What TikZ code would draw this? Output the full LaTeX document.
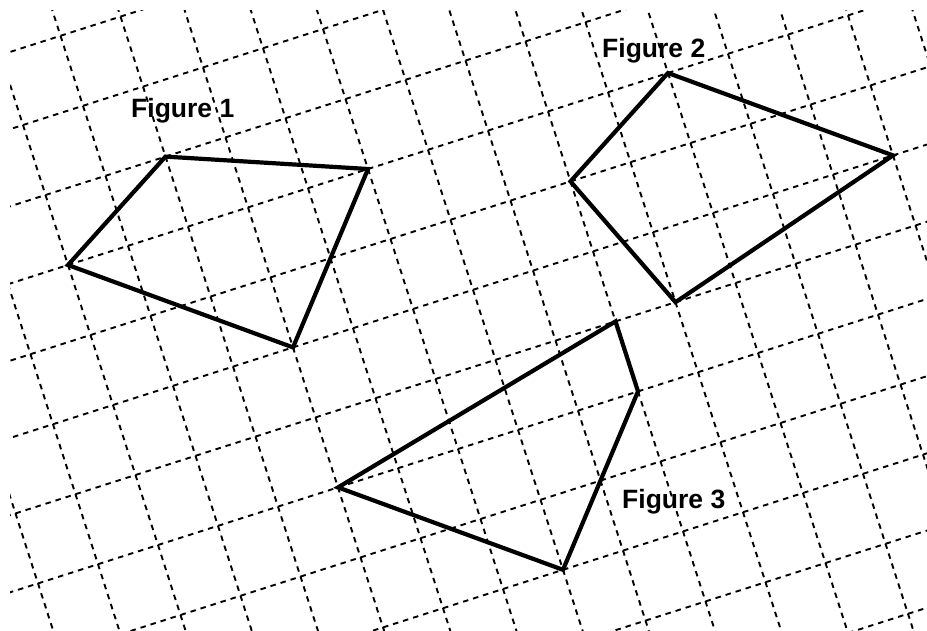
\documentclass[tikz,border=0pt]{standalone}
\usepackage{fontspec}
\setmainfont{Liberation Sans}
\begin{document}
\begin{tikzpicture}[x=1pt,y=-1pt,
  gridline/.style={line width=1.9pt,dash pattern=on 5.5pt off 5pt,black},
  figedge/.style={line width=4.2pt,line join=miter,black},
  figlabel/.style={font=\bfseries\fontsize{26.5}{30}\selectfont,anchor=base west,inner sep=0pt}]
\useasboundingbox[fill=white] (0,0) rectangle (927,630);
\begin{scope}
  \clip (10,10) rectangle (927,630);
  \begin{scope}[shift={(68,265)},x={(60pt,19.2pt)},y={(22.5pt,-70pt)}]
    \foreach \i in {-4,...,16} \draw[gridline] (\i,-5) -- (\i,10);
    \foreach \j in {-5,...,10} \draw[gridline] (-5,\j) -- (17,\j);
  \end{scope}
\end{scope}
\begin{scope}[shift={(68,265)},x={(60pt,19.2pt)},y={(22.5pt,-70pt)}]
  % Figure 1
  \coordinate (a1) at (0,0);
  \coordinate (a2) at (2,-1);
  \coordinate (a3) at (5,0);
  \coordinate (a4) at (3,2);
  % Figure 2
  \coordinate (b1) at (10,0);
  \coordinate (b2) at (13,2);
  \coordinate (b3) at (9,3);
  \coordinate (b4) at (8,1);
  % Figure 3
  \coordinate (c1) at (3,4);
  \coordinate (c2) at (8,3);
  \coordinate (c3) at (8,4);
  \coordinate (c4) at (6,6);
\end{scope}
\draw[figedge] (a1) -- (a2) -- (a3) -- (a4) -- cycle;
\draw[figedge] (b1) -- (b2) -- (b3) -- (b4) -- cycle;
\draw[figedge] (c1) -- (c2) -- (c3) -- (c4) -- cycle;
\node[figlabel] (l1) at (131,117) {Figure 1};
\node[figlabel] (l2) at (602,57) {Figure 2};
\node[figlabel] (l3) at (622,508) {Figure 3};
\end{tikzpicture}
\end{document}
